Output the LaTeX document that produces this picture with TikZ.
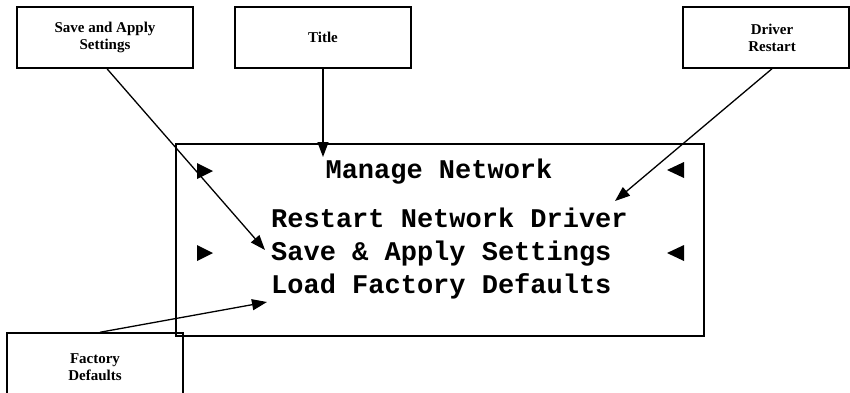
\documentclass[tikz,border=0pt]{standalone}
\usepackage{fontspec}
\setmainfont{Liberation Serif}
\newfontfamily\scrfont{Liberation Mono}
\usetikzlibrary{arrows.meta}
\tikzset{
  callout/.style={draw, line width=1.5pt, inner sep=0pt, align=center,
    font=\fontsize{15}{17}\selectfont\bfseries},
  screen/.style={draw, line width=1.5pt, inner sep=0pt},
  scrtext/.style={inner sep=0pt, font=\fontsize{27}{27}\selectfont\scrfont\bfseries},
  pointer/.style={line width=1.3pt, -{Triangle[length=15pt,width=11pt]}},
  marker/.style={fill=black}
}
\begin{document}
\begin{tikzpicture}[x=1pt,y=-1pt]
\useasboundingbox (0,0) rectangle (850,392);
% callout boxes
\node[callout, minimum width=176pt, minimum height=61pt] (savebox) at (105,37.5) {Save and Apply\\Settings};
\node[callout, minimum width=176pt, minimum height=61pt] (titlebox) at (323,37.5) {Title};
\node[callout, minimum width=166pt, minimum height=61pt] (driverbox) at (766,37.5) {};
\node[inner sep=0pt, align=center, font=\fontsize{15}{17}\selectfont\bfseries] (drivertext) at (772,37.5) {Driver\\Restart};
\node[callout, minimum width=176pt, minimum height=68pt] (factorybox) at (95,367) {Factory\\Defaults};
% screen
\node[screen, minimum width=528pt, minimum height=192pt] (scr) at (440,240) {};
\node[scrtext, anchor=base] (title) at (439,178) {Manage Network};
\node[scrtext, anchor=base west] (l1) at (271,227) {Restart Network Driver};
\node[scrtext, anchor=base west] (l2) at (271,260) {Save \& Apply Settings};
\node[scrtext, anchor=base west] (l3) at (271,293) {Load Factory Defaults};
% selection markers
\fill[marker] (197,163) -- (213,171) -- (197,179) -- cycle;
\fill[marker] (197,245) -- (213,253) -- (197,261) -- cycle;
\fill[marker] (684,162) -- (667,170) -- (684,178) -- cycle;
\fill[marker] (684,245) -- (667,253) -- (684,261) -- cycle;
% arrow tips
\coordinate (tSave) at (265,250);
\coordinate (tTitle) at (323,157);
\coordinate (tDriver) at (615,201);
\coordinate (tFactory) at (267,302);
\draw[pointer] ([xshift=2pt]savebox.south) -- (tSave);
\draw[pointer] (titlebox.south) -- (tTitle);
\draw[pointer] ([xshift=6pt]driverbox.south) -- (tDriver);
\draw[pointer] ([xshift=5pt]factorybox.north) -- (tFactory);
\end{tikzpicture}
\end{document}
